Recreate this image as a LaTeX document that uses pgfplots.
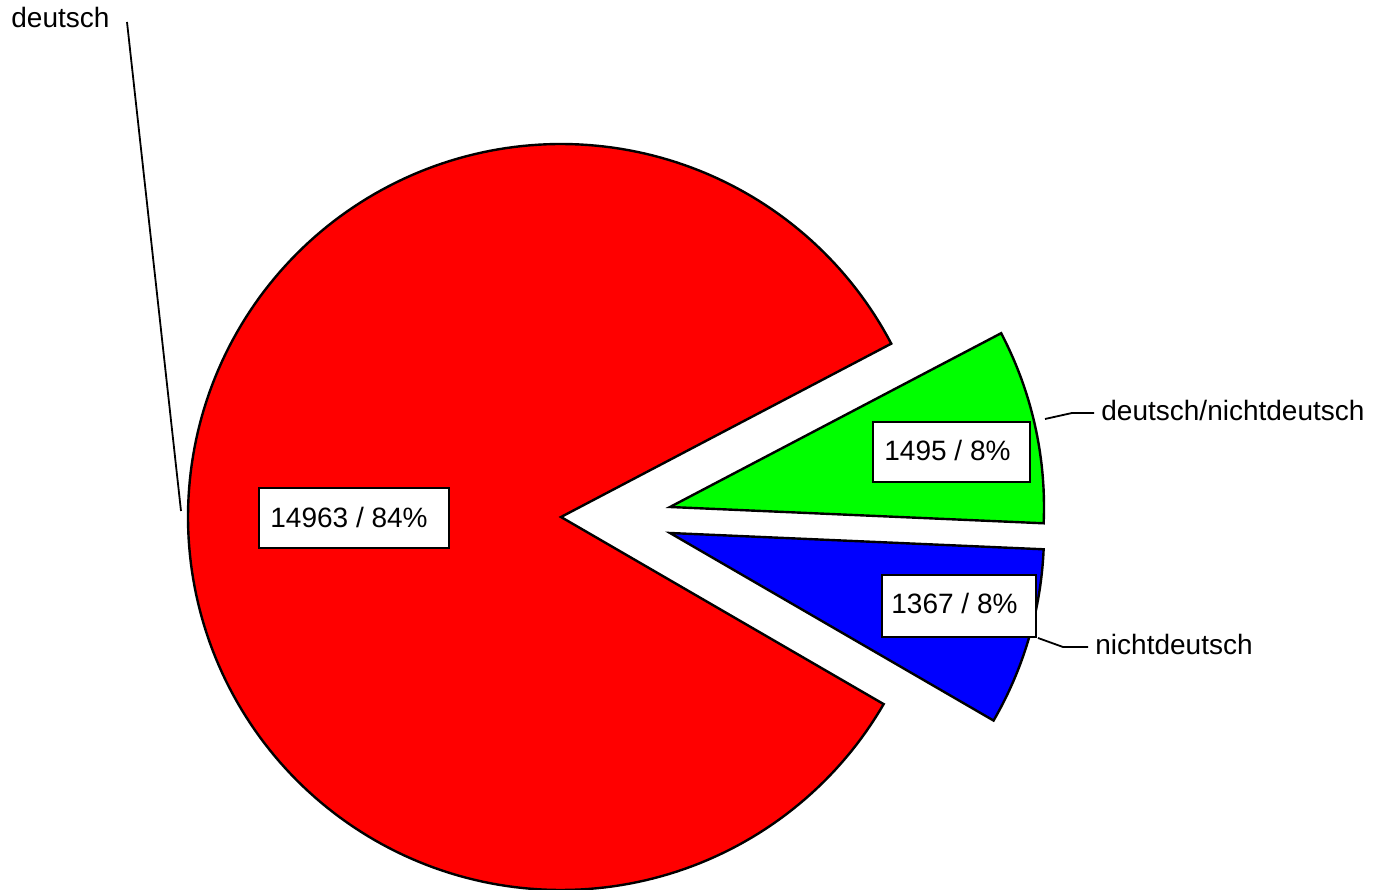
\documentclass[border=0pt]{standalone}
\usepackage{fontspec}
\setmainfont{Liberation Sans}
\usepackage{pgfplots}
\pgfplotsset{compat=1.18}
% data
\def\vDeutsch{14963}
\def\vMixed{1495}
\def\vNicht{1367}
\pgfmathsetmacro{\total}{\vDeutsch/1000+\vMixed/1000+\vNicht/1000}
\pgfmathsetmacro{\aStart}{-30.1}
\pgfmathsetmacro{\aB}{\aStart+\vNicht/1000/\total*360}
\pgfmathsetmacro{\aG}{\aB+\vMixed/1000/\total*360}
\pgfmathsetmacro{\aR}{\aG+\vDeutsch/1000/\total*360}
\begin{document}
\begin{tikzpicture}[every node/.style={font=\fontsize{14pt}{16pt}\selectfont}]
\begin{axis}[
  scale only axis, width=688pt, height=444.5pt,
  xmin=0, xmax=1376, ymin=0, ymax=889,
  hide axis, clip=false]
\coordinate (bl) at (axis cs:0,0);
\coordinate (tr) at (axis cs:1376,889);
% red slice (deutsch)
\addplot[fill={rgb,255:red,255;green,0;blue,0}, draw=black, line width=1.2pt, domain=\aG:\aR, samples=240, variable=\t]
  ({561+373*cos(t)}, {372+373*sin(t)}) -- (axis cs:561,372) -- cycle;
% green slice (deutsch/nichtdeutsch)
\addplot[fill={rgb,255:red,0;green,255;blue,0}, draw=black, line width=1.2pt, domain=\aB:\aG, samples=40, variable=\t]
  ({670+374*cos(t)}, {382+374*sin(t)}) -- (axis cs:670,382) -- cycle;
% blue slice (nichtdeutsch)
\addplot[fill={rgb,255:red,0;green,0;blue,255}, draw=black, line width=1.2pt, domain=\aStart:\aB, samples=40, variable=\t]
  ({670+374*cos(t)}, {356+374*sin(t)}) -- (axis cs:670,356) -- cycle;
% value boxes
\draw[line width=1.2pt, fill=white] (axis cs:259,341) rectangle (axis cs:449,401);
\node[anchor=west, inner sep=0pt] at (axis cs:270,372) {14963 / 84\%};
\draw[line width=1.2pt, fill=white] (axis cs:873,407) rectangle (axis cs:1030,467);
\node[anchor=west, inner sep=0pt] at (axis cs:884,439) {1495 / 8\%};
\draw[line width=1.2pt, fill=white] (axis cs:882,252) rectangle (axis cs:1036,314);
\node[anchor=west, inner sep=0pt] at (axis cs:891,286) {1367 / 8\%};
% leader lines and category labels
\draw[line width=0.9pt] (axis cs:181,378) -- (axis cs:127,867);
\node[anchor=west, inner sep=0pt] at (axis cs:11,871) {deutsch};
\draw[line width=0.9pt] (axis cs:1045,470) -- (axis cs:1072,476) -- (axis cs:1094,476);
\node[anchor=west, inner sep=0pt] at (axis cs:1101,479) {deutsch/nichtdeutsch};
\draw[line width=0.9pt] (axis cs:1038,251) -- (axis cs:1063,242) -- (axis cs:1088,242);
\node[anchor=west, inner sep=0pt] at (axis cs:1095,245) {nichtdeutsch};
\end{axis}
\pgfresetboundingbox
\path (bl) rectangle (tr);
\end{tikzpicture}
\end{document}
